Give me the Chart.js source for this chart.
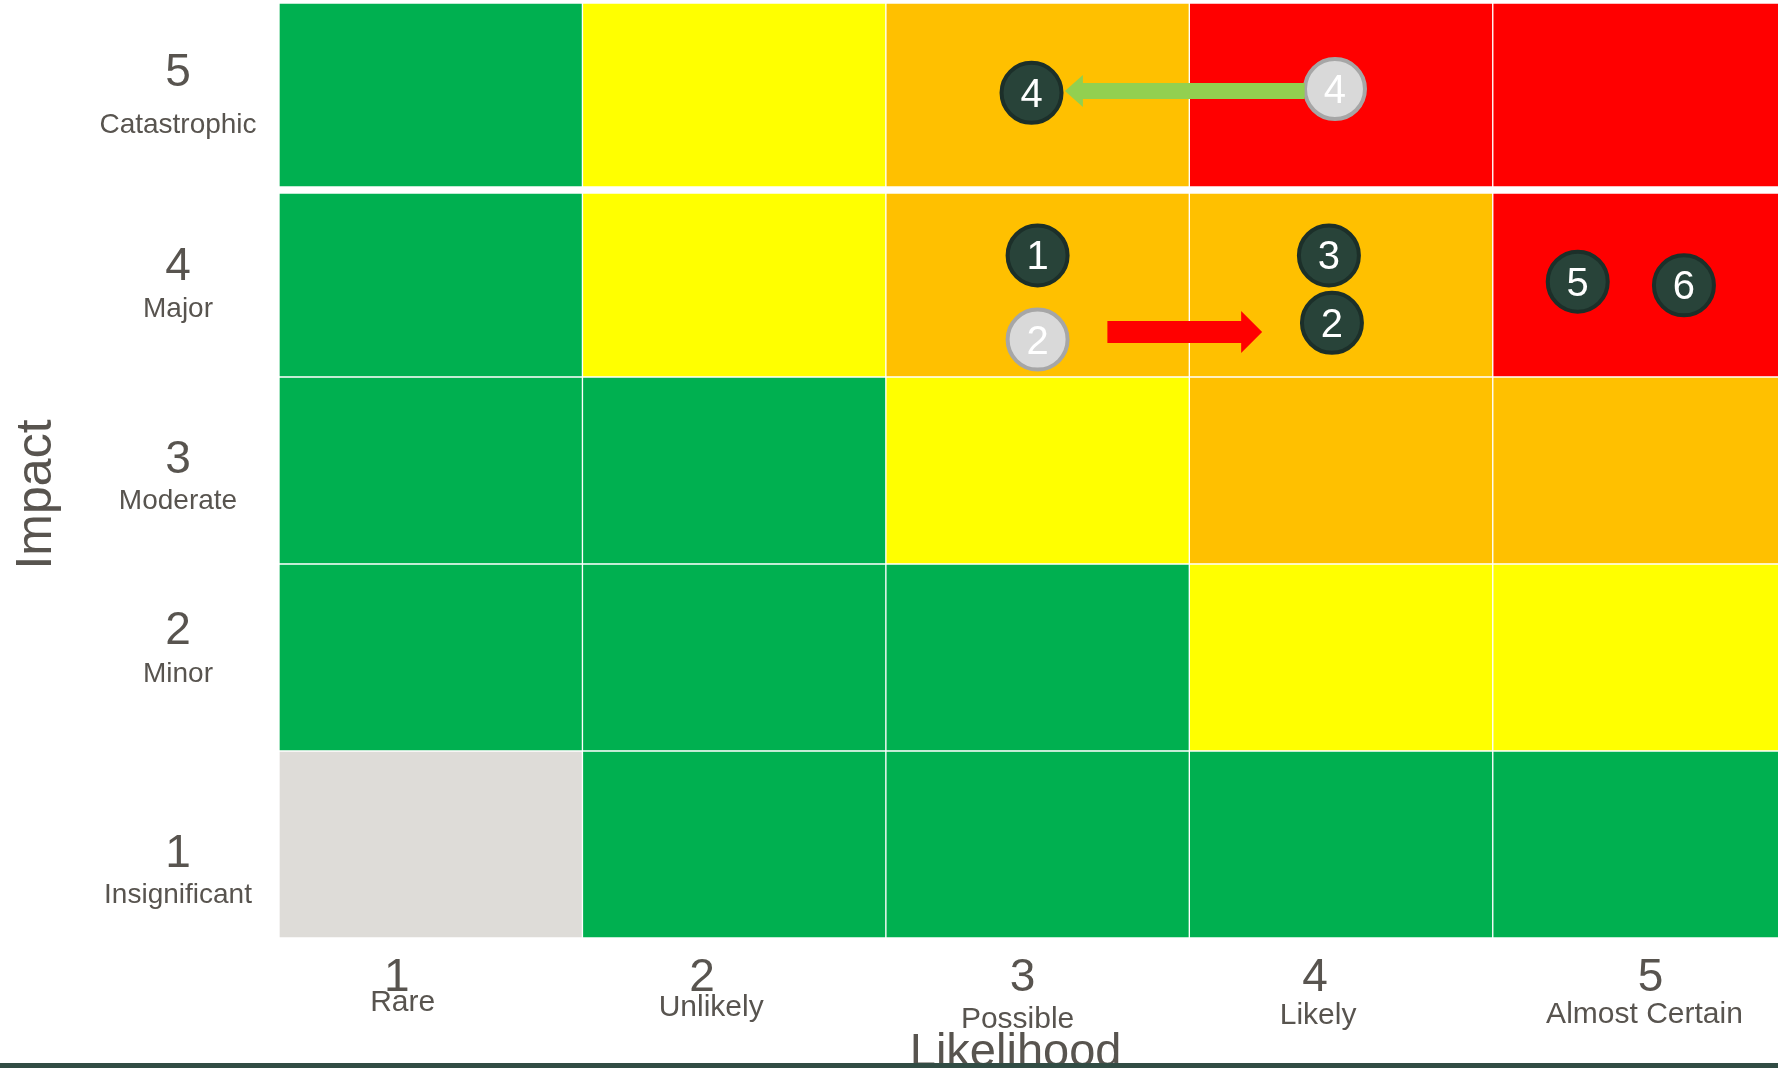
<!DOCTYPE html>
<html>
<head>
<meta charset="utf-8">
<title>Risk matrix</title>
<script src="https://cdn.jsdelivr.net/npm/chart.js@4.4.1/dist/chart.umd.min.js"></script>
<style>
  html, body { margin: 0; padding: 0; background: #fff; }
  #wrap { position: relative; width: 1778px; height: 1068px; }
</style>
</head>
<body>
<div id="wrap"><canvas id="riskChart"></canvas></div>
<script>
const likelihoodLevels = [1, 2, 3, 4, 5];
const likelihoodNames = ["Rare", "Unlikely", "Possible", "Likely", "Almost Certain"];
const impactLevels = [1, 2, 3, 4, 5];
const impactNames = ["Insignificant", "Minor", "Moderate", "Major", "Catastrophic"];

// rating of each cell, one list per impact level, columns follow likelihood 1 -> 5
const ratingImpact1 = ["none", "low", "low", "low", "low"];
const ratingImpact2 = ["low", "low", "low", "medium", "medium"];
const ratingImpact3 = ["low", "low", "medium", "high", "high"];
const ratingImpact4 = ["low", "medium", "high", "high", "extreme"];
const ratingImpact5 = ["low", "medium", "high", "extreme", "extreme"];
const ratingRows = [ratingImpact1, ratingImpact2, ratingImpact3, ratingImpact4, ratingImpact5];

// where the risks sit now
const currentIds = ["1", "2", "3", "4", "5", "6"];
const currentLikelihood = [3.0, 3.97, 3.96, 2.98, 4.78, 5.13];
const currentImpact = [4.15, 3.79, 4.15, 5.02, 4.01, 3.99];

// where risks 2 and 4 were before
const previousIds = ["2", "4"];
const previousLikelihood = [3.0, 3.98];
const previousImpact = [3.70, 5.04];

// movement arrows
const arrowFromLikelihood = [3.88, 3.23];
const arrowToLikelihood = [3.09, 3.74];
const arrowImpact = [5.03, 3.74];

const ratingColors = {
  none: "#dedcd8",
  low: "#00b050",
  medium: "#ffff00",
  high: "#ffc000",
  extreme: "#ff0000"
};

const FONT = "'Liberation Sans', Arial, sans-serif";
const TEXT_COLOR = "#58544f";

// small nudges so the hand placed labels land where they do in the original
const yDigitShift = [22, -14, 2, -4, -11];
const yWordShift = [58, 24, 38, 33, 36];
const xDigitShift = [-34, -32, -15, -26, 6];
const xWordShift = [-28, -23, -20, -23, 0];
const xWordDrop = [73, 78, 90, 86, 85];

document.addEventListener("DOMContentLoaded", () => {
  renderMatrix();
});

function cellDatasets() {
  return impactLevels.map((impact, r) => {
    const bw = { top: 1, right: 1, bottom: 1, left: 1 };
    if (impact === 5) bw.bottom = 4;
    if (impact === 4) bw.top = 4;
    return {
      type: "bar",
      label: "Impact " + impact,
      data: likelihoodLevels.map(l => ({ x: l, y: [impact - 0.5, impact + 0.5] })),
      backgroundColor: ratingRows[r].map(k => ratingColors[k]),
      borderColor: "#ffffff",
      borderWidth: bw,
      borderSkipped: false,
      grouped: false,
      barPercentage: 1,
      categoryPercentage: 1,
      order: 5
    };
  });
}

function drawArrow(ctx, x0, x1, y, color, shaft, headH, headL) {
  const dir = x1 > x0 ? 1 : -1;
  const neck = x1 - dir * headL;
  ctx.save();
  ctx.fillStyle = color;
  ctx.beginPath();
  ctx.moveTo(x0, y - shaft / 2);
  ctx.lineTo(neck, y - shaft / 2);
  ctx.lineTo(neck, y - headH / 2);
  ctx.lineTo(x1, y);
  ctx.lineTo(neck, y + headH / 2);
  ctx.lineTo(neck, y + shaft / 2);
  ctx.lineTo(x0, y + shaft / 2);
  ctx.closePath();
  ctx.fill();
  ctx.restore();
}

const riskLabels = {
  id: "riskLabels",
  beforeDatasetDraw(chart, args) {
    // arrows go under the markers
    if (args.index !== 0) return;
    const x = chart.scales.x, y = chart.scales.y;
    arrowImpact.forEach((imp, i) => {
      const from = arrowFromLikelihood[i], to = arrowToLikelihood[i];
      const py = y.getPixelForValue(imp);
      if (to < from) {
        drawArrow(chart.ctx, x.getPixelForValue(from), x.getPixelForValue(to), py, "#92d050", 16, 32, 18);
      } else {
        drawArrow(chart.ctx, x.getPixelForValue(from), x.getPixelForValue(to), py, "#ff0000", 22, 42, 21);
      }
    });
  },
  afterDatasetsDraw(chart) {
    const ctx = chart.ctx;
    const x = chart.scales.x, y = chart.scales.y;
    const area = chart.chartArea;

    ctx.save();
    ctx.textAlign = "center";
    ctx.textBaseline = "alphabetic";

    // numbers inside the markers
    ctx.fillStyle = "#ffffff";
    ctx.font = "40px " + FONT;
    [[0, currentIds], [1, previousIds]].forEach(([di, ids]) => {
      chart.getDatasetMeta(di).data.forEach((pt, i) => {
        ctx.fillText(ids[i], pt.x, pt.y + 14);
      });
    });

    // impact labels
    ctx.fillStyle = TEXT_COLOR;
    impactLevels.forEach((lvl, i) => {
      const py = y.getPixelForValue(lvl);
      const px = area.left - 101;
      ctx.font = "46px " + FONT;
      ctx.fillText(String(lvl), px, py + yDigitShift[i]);
      ctx.font = "28px " + FONT;
      ctx.fillText(impactNames[i], px, py + yWordShift[i]);
    });

    // likelihood labels
    likelihoodLevels.forEach((lvl, i) => {
      const px = x.getPixelForValue(lvl);
      ctx.font = "46px " + FONT;
      ctx.fillText(String(lvl), px + xDigitShift[i], area.bottom + 53);
      ctx.font = "30px " + FONT;
      ctx.fillText(likelihoodNames[i], px + xWordShift[i], area.bottom + xWordDrop[i]);
    });

    // axis titles
    ctx.font = "47px " + FONT;
    ctx.fillText("Likelihood", x.getPixelForValue(3) - 22, area.bottom + 128);

    ctx.translate(51, y.getPixelForValue(3) + 24);
    ctx.rotate(-Math.PI / 2);
    ctx.font = "50px " + FONT;
    ctx.fillText("Impact", 0, 0);
    ctx.restore();
  },
  afterDraw(chart) {
    // dark strip along the bottom edge, it covers the foot of "Likelihood"
    const ctx = chart.ctx;
    ctx.save();
    ctx.fillStyle = "#314c44";
    ctx.fillRect(0, chart.height - 5, chart.width, 5);
    ctx.restore();
  }
};

function renderMatrix() {
  const ctx = document.getElementById("riskChart");
  new Chart(ctx, {
    type: "bar",
    data: {
      datasets: [
        {
          type: "scatter",
          label: "Current",
          data: currentLikelihood.map((v, i) => ({ x: v, y: currentImpact[i] })),
          pointRadius: 30,
          pointBackgroundColor: "#284339",
          pointBorderColor: "#1c2f29",
          pointBorderWidth: 4,
          order: 0
        },
        {
          type: "scatter",
          label: "Previous",
          data: previousLikelihood.map((v, i) => ({ x: v, y: previousImpact[i] })),
          pointRadius: 30,
          pointBackgroundColor: "#d9d9d9",
          pointBorderColor: "#a6a6a6",
          pointBorderWidth: 4,
          order: 1
        },
        ...cellDatasets()
      ]
    },
    options: {
      responsive: true,
      maintainAspectRatio: false,
      animation: false,
      devicePixelRatio: 1,
      events: [],
      layout: { autoPadding: false, padding: { left: 279, top: 3, right: 0, bottom: 130 } },
      plugins: {
        legend: { display: false },
        tooltip: { enabled: false }
      },
      scales: {
        x: {
          type: "linear",
          min: 0.5,
          max: 5.44,
          offset: false,
          display: false,
          grid: { offset: false },
          ticks: { stepSize: 1, includeBounds: false }
        },
        y: {
          type: "linear",
          min: 0.5,
          max: 5.5,
          offset: false,
          display: false,
          ticks: { stepSize: 1 }
        }
      }
    },
    plugins: [riskLabels]
  });
}
</script>
</body>
</html>
